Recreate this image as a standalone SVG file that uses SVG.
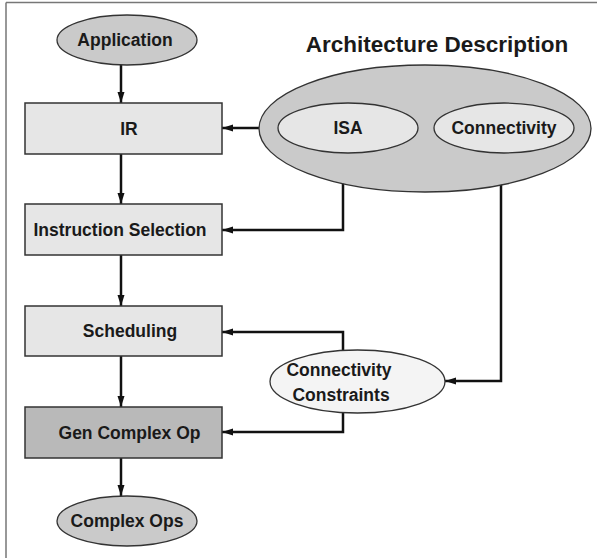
<svg xmlns="http://www.w3.org/2000/svg" width="597" height="558" viewBox="0 0 597 558">
<defs>
<marker id="ah" markerWidth="12" markerHeight="8" refX="11" refY="4" orient="auto" markerUnits="userSpaceOnUse">
<path d="M0,0.5 L11,4 L0,7.5 Z" fill="#111"/>
</marker>
<style>
text{font-family:"Liberation Sans",Arial,sans-serif;font-weight:bold;fill:#1a1a1a;text-anchor:middle}
.n{font-size:17.5px}
.box{fill:#e6e6e6;stroke:#333;stroke-width:1.5}
.dark{fill:#b9b9b9;stroke:#333;stroke-width:1.5}
.ell{fill:#cacaca;stroke:#333;stroke-width:1.3}
.inner{fill:#e6e6e6;stroke:#333;stroke-width:1.3}
.light{fill:#f4f4f4;stroke:#333;stroke-width:1.3}
.c{fill:none;stroke:#111;stroke-width:2.5;marker-end:url(#ah)}
</style>
</defs>
<rect x="0" y="0" width="597" height="558" fill="#fff"/>
<path d="M6,2.5 H597 M6,2.5 V558" fill="none" stroke="#777" stroke-width="1.5"/>

<g id="connectors">
<path class="c" d="M121,65 V103"/>
<path class="c" d="M121,154 V204"/>
<path class="c" d="M121,255 V306"/>
<path class="c" d="M121,356 V407"/>
<path class="c" d="M121,458 V496"/>
<path class="c" d="M259,128 H222"/>
<path class="c" d="M343,153 V230 H222"/>
<path class="c" d="M501,153 V381 H445"/>
<path class="c" d="M343,350 V332 H222"/>
<path class="c" d="M343,413 V432 H222"/>
</g>

<g id="application">
<ellipse class="ell" cx="127" cy="40" rx="70" ry="25"/>
<text class="n" x="125" y="46">Application</text>
</g>
<g id="ir">
<rect class="box" x="25" y="103" width="197" height="51"/>
<text class="n" x="129" y="134.5">IR</text>
</g>
<g id="instruction-selection">
<rect class="box" x="25" y="204" width="197" height="51"/>
<text class="n" x="120" y="236">Instruction Selection</text>
</g>
<g id="scheduling">
<rect class="box" x="25" y="306" width="197" height="50"/>
<text class="n" x="130" y="337">Scheduling</text>
</g>
<g id="gen-complex-op">
<rect class="dark" x="25" y="407" width="197" height="51"/>
<text class="n" x="129.5" y="438.5">Gen Complex Op</text>
</g>
<g id="complex-ops">
<ellipse class="ell" cx="127" cy="521" rx="70" ry="25"/>
<text class="n" x="127" y="527">Complex Ops</text>
</g>
<g id="architecture-description">
<text x="437" y="52" style="font-size:22.5px">Architecture Description</text>
<ellipse class="ell" cx="425" cy="128.5" rx="166" ry="63.5"/>
</g>
<g id="isa">
<ellipse class="inner" cx="348" cy="128" rx="70" ry="25"/>
<text class="n" x="348" y="134">ISA</text>
</g>
<g id="connectivity">
<ellipse class="inner" cx="504" cy="128" rx="70" ry="25"/>
<text class="n" x="504" y="134">Connectivity</text>
</g>
<g id="connectivity-constraints">
<ellipse class="light" cx="357.5" cy="381.5" rx="87.5" ry="31.5"/>
<text class="n" x="339" y="376">Connectivity</text>
<text class="n" x="341" y="401">Constraints</text>
</g>
</svg>
